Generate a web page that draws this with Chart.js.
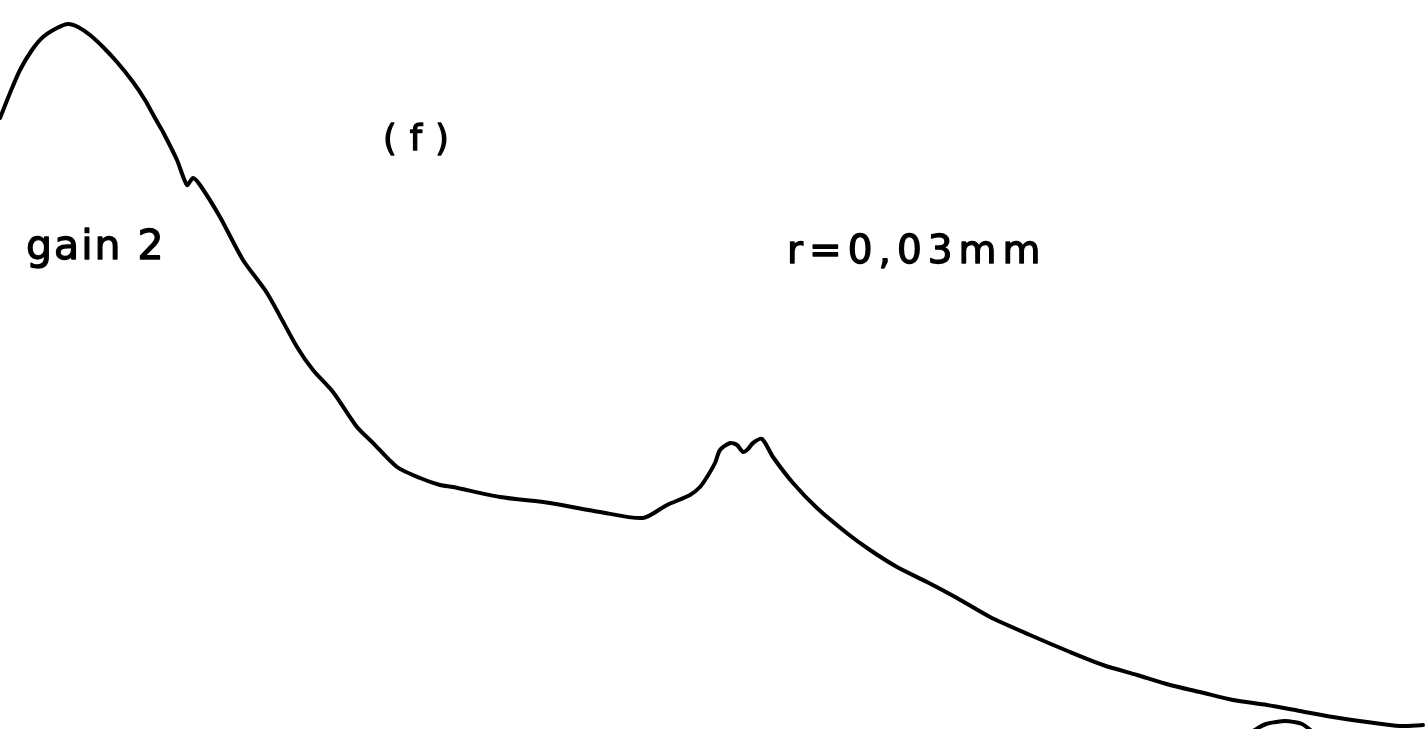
<!DOCTYPE html>
<html>
<head>
<meta charset="utf-8">
<script src="https://cdn.jsdelivr.net/npm/chart.js@4/dist/chart.umd.min.js"></script>
<style>
  html, body { margin: 0; padding: 0; background: #fff; overflow: hidden; }
  #wrap { width: 1428px; height: 729px; position: relative; }
</style>
</head>
<body>
<div id="wrap"><canvas id="c" width="1428" height="729"></canvas></div>
<script>
// Position along the scan (arbitrary units) and recorded signal (arbitrary units)
const positionX = [0,10,20,32,43,57,68,78,90,103,117,133,145,155,163,177,187,193,200,220,243,267,297,313,333,357,373,397,420,440,453,500,550,600,643,667,690,700,707,715,720,730,737,743,748,753,762,773,793,817,848,870,897,927,957,990,1030,1070,1103,1137,1170,1200,1233,1267,1300,1333,1367,1400,1423];
const signal = [611,636,659,679,692,701,705,702,694,682,667,647,629,611,597,569,544,551,544,512,469,436,382,359,337,302,286,262,251,244,242,232,226,217,211,224,234,242,252,266,279,286,284,277,280,286,290,272,246,221,195,179,162,147,131,112,94,77,64,54,44,37,29,24,18,12,7,3,4];

// Start of the next trace, just visible at the bottom edge
const nextX = [1252,1258,1266,1276,1285,1294,1302,1308,1313];
const nextSignal = [-3,1,5,7,8,7,5,1,-3];

// Annotations
const labels = [
  { text: "( f )", x: 383, y: 150, size: 35, spacing: 1 },
  { text: "gain 2", x: 26, y: 259, size: 41, spacing: 2 },
  { text: "r=0,03mm", x: 787, y: 263, size: 39, spacing: 6 }
];

const toPts = (xs, ys) => xs.map((x, i) => ({ x: x, y: ys[i] }));

const textPlugin = {
  id: 'annotText',
  afterDraw(chart) {
    const ctx = chart.ctx;
    ctx.save();
    ctx.fillStyle = '#000';
    ctx.strokeStyle = '#000';
    ctx.lineWidth = 1.3;
    ctx.lineJoin = 'round';
    ctx.textBaseline = 'alphabetic';
    ctx.textAlign = 'left';
    labels.forEach(l => {
      ctx.font = l.size + 'px "DejaVu Sans"';
      try { ctx.letterSpacing = l.spacing + 'px'; } catch (e) {}
      ctx.fillText(l.text, l.x, l.y);
      ctx.strokeText(l.text, l.x, l.y);
    });
    ctx.restore();
  }
};

new Chart(document.getElementById('c'), {
  type: 'line',
  data: {
    datasets: [
      { data: toPts(positionX, signal), borderColor: '#000', borderWidth: 4, pointRadius: 0, tension: 0.25, fill: false, borderJoinStyle: 'round', borderCapStyle: 'round' },
      { data: toPts(nextX, nextSignal), borderColor: '#000', borderWidth: 4, pointRadius: 0, tension: 0.4, fill: false }
    ]
  },
  options: {
    responsive: false,
    animation: false,
    layout: { padding: 0 },
    plugins: { legend: { display: false }, tooltip: { enabled: false } },
    scales: {
      x: { type: 'linear', min: 0, max: 1428, display: false },
      y: { type: 'linear', min: 0, max: 729, display: false }
    }
  },
  plugins: [textPlugin]
});
</script>
</body>
</html>
